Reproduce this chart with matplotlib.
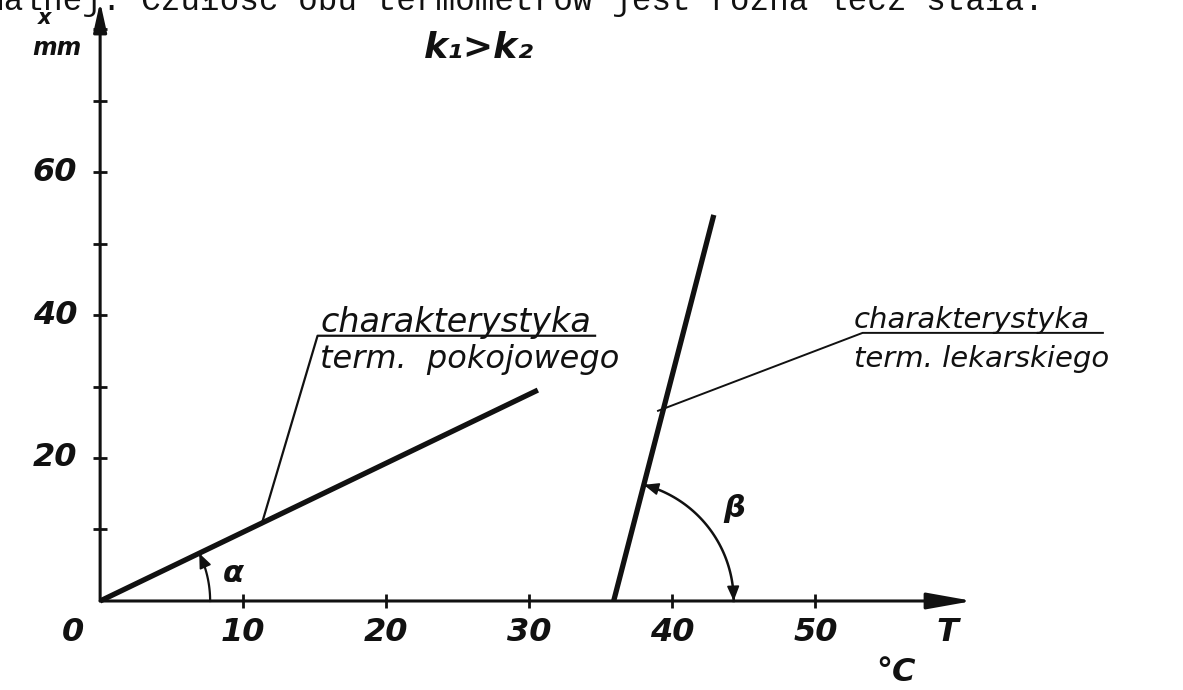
import numpy as np
import matplotlib.pyplot as plt

# values
room_T = [0, 30.6]      # term. pokojowy
room_x = [0, 29.5]
med_T = [35.9, 42.9]    # term. lekarski
med_x = [0, 54.0]

x_ticks = [10, 20, 30, 40, 50]
x_labels = ["10", "20", "30", "40", "50"]
y_ticks = [10, 20, 30, 40, 50, 60, 70, 80]
y_label_ticks = [20, 40, 60]
y_labels = ["20", "40", "60"]

T_end = 61.0
X_end = 83.8

ink = "#111111"
num_font = dict(family="DejaVu Sans", style="italic", weight="bold", color=ink)
txt_font = dict(family="DejaVu Sans", style="italic", color=ink)

fig = plt.figure(figsize=(11.83, 6.90), dpi=100)
ax = fig.add_axes([0, 0, 1, 1])
ax.set_xlim(-7.0, 75.7)
ax.set_ylim(-12.45, 84.06)
ax.axis("off")

# pixels per unit, needed to draw circular arcs on a non-square scale
sx = 1183 / (75.7 + 7.0)
sy = 690 / (84.06 + 12.45)

# typewritten line cut off at the top of the scan
ax.text(66.0, 82.7, "maksymalnej. Czułość obu termometrów jest różna lecz stała.",
        family="Liberation Mono", fontsize=23.5, ha="right", va="baseline", color=ink)

# axes with arrows
ax.annotate("", xy=(T_end, 0), xytext=(0, 0),
            arrowprops=dict(arrowstyle="-|>,head_length=1.4,head_width=0.25",
                            lw=2.2, color=ink, mutation_scale=20, shrinkA=0, shrinkB=0))
ax.annotate("", xy=(0, X_end), xytext=(0, 0),
            arrowprops=dict(arrowstyle="-|>,head_length=0.9,head_width=0.2",
                            lw=2.2, color=ink, mutation_scale=20, shrinkA=0, shrinkB=0))
ax.plot(x_ticks, [0] * len(x_ticks), ls="none", marker="|", ms=10, mew=2, color=ink)
ax.plot([0] * len(y_ticks), y_ticks, ls="none", marker="_", ms=10, mew=2, color=ink)

for t, lab in zip(x_ticks, x_labels):
    ax.text(t, -4.4, lab, fontsize=23, ha="center", va="center", **num_font)
ax.text(-1.9, -4.4, "0", fontsize=23, ha="center", va="center", **num_font)
for v, lab in zip(y_label_ticks, y_labels):
    ax.text(-1.6, v, lab, fontsize=23, ha="right", va="center", **num_font)

ax.text(59.2, -4.4, "T", fontsize=23, ha="center", va="center", **num_font)
ax.text(55.6, -10.0, "°C", fontsize=23, ha="center", va="center", **num_font)
ax.text(-3.9, 81.6, "x", fontsize=15, ha="center", va="center", **num_font)
ax.text(-3.0, 77.3, "mm", fontsize=17, ha="center", va="center", **num_font)
ax.text(26.5, 77.3, "k₁>k₂", fontsize=26, ha="center", va="center", **num_font)

# characteristics
ax.plot(room_T, room_x, color=ink, lw=3.8, solid_capstyle="butt")
ax.plot(med_T, med_x, color=ink, lw=3.8, solid_capstyle="butt")

# angle alpha
r_a = 110
ang_a = np.arctan2(room_x[1] * sy, room_T[1] * sx)
th = np.linspace(0, ang_a, 40)
ax.plot(r_a * np.cos(th) / sx, r_a * np.sin(th) / sy, color=ink, lw=1.6)
ax.annotate("", xy=(r_a * np.cos(th[-1]) / sx, r_a * np.sin(th[-1]) / sy),
            xytext=(r_a * np.cos(th[-6]) / sx, r_a * np.sin(th[-6]) / sy),
            arrowprops=dict(arrowstyle="-|>,head_length=0.6,head_width=0.25",
                            color=ink, lw=1.2, mutation_scale=15, shrinkA=0, shrinkB=0))
ax.text(9.3, 3.9, "α", fontsize=22, ha="center", va="center", **num_font)

# angle beta
r_b = 120
ang_b = np.arctan2((med_x[1] - med_x[0]) * sy, (med_T[1] - med_T[0]) * sx)
th = np.linspace(0, ang_b, 60)
bx = med_T[0] + r_b * np.cos(th) / sx
by = r_b * np.sin(th) / sy
ax.plot(bx, by, color=ink, lw=1.8)
for a, b in [(-4, -1), (3, 0)]:
    ax.annotate("", xy=(bx[b], by[b]), xytext=(bx[a], by[a]),
                arrowprops=dict(arrowstyle="-|>,head_length=0.6,head_width=0.25",
                                color=ink, lw=1.2, mutation_scale=15, shrinkA=0, shrinkB=0))
ax.text(44.3, 13.0, "β", fontsize=22, ha="center", va="center", **num_font)

# labels with leader lines
ax.plot([11.3, 15.2, 34.6], [10.8, 37.1, 37.1], color=ink, lw=1.6)
ax.text(15.4, 37.6, "charakterystyka", fontsize=24, ha="left", va="baseline", **txt_font)
ax.text(15.4, 32.6, "term.  pokojowego", fontsize=23, ha="left", va="baseline", **txt_font)

ax.plot([39.0, 53.3, 70.1], [26.6, 37.5, 37.5], color=ink, lw=1.4)
ax.text(52.7, 38.2, "charakterystyka", fontsize=21, ha="left", va="baseline", **txt_font)
ax.text(52.7, 32.7, "term. lekarskiego", fontsize=21, ha="left", va="baseline", **txt_font)

plt.savefig("out.png", dpi=100)
